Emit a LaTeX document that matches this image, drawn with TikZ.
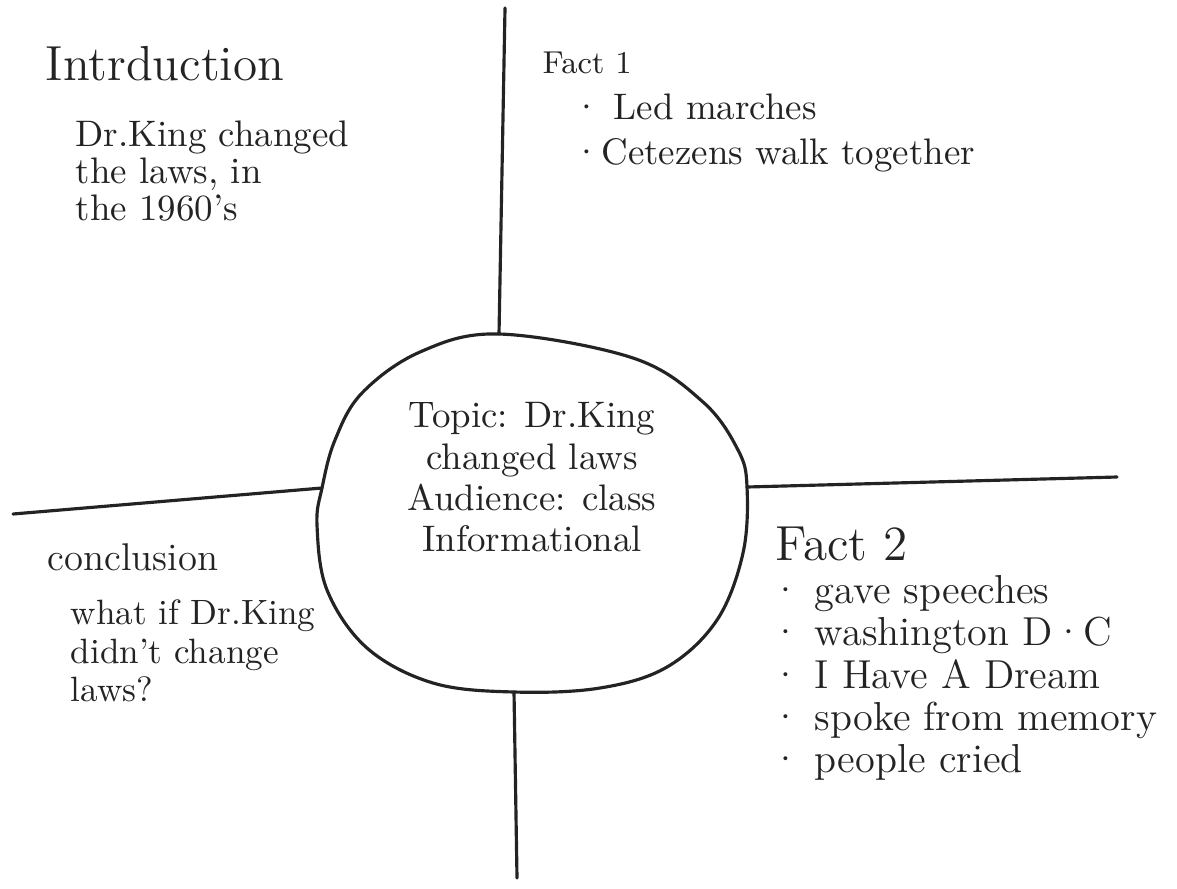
\documentclass[tikz,border=0pt]{standalone}
\usepackage{tikz}
\usepackage{xcolor}
\definecolor{pencilgray}{RGB}{35, 35, 35}

\begin{document}
\begin{tikzpicture}[x=0.01cm, y=-0.01cm,
        divider/.style={draw=pencilgray, line width=0.9pt, line cap=round},
        heading/.style={anchor=north west, inner sep=0pt, text=pencilgray, font=\fontsize{#1}{#1}\selectfont},
        notes/.style={anchor=north west, inner sep=0pt, align=left, text=pencilgray}]
        \useasboundingbox (0,0) rectangle (1177,888);

        % Topic bubble in the middle
        \draw[divider] plot[smooth cycle, tension=0.6] coordinates {(499,334) (633,358) (703,402) (738,450) (747,487) (743,553) (717,620) (667,667) (600,688) (514,692) (433,683) (367,648) (327,590) (317,525) (322,488) (335,440) (362,393) (420,352)};
        \node[notes, anchor=north, align=center, font=\fontsize{10.5}{11.7}\selectfont] (topic) at (532,402) {Topic: Dr.King\\changed laws\\Audience: class\\Informational};

        % Quadrant dividers
        \coordinate (bubbletop) at (499,334);
        \coordinate (bubblebottom) at (514,692);
        \coordinate (bubbleleft) at (322,488);
        \coordinate (bubbleright) at (747,487);
        \coordinate (topend) at (505,8);
        \coordinate (bottomend) at (517,878);
        \coordinate (leftend) at (13,514);
        \coordinate (rightend) at (1117,477);
        \draw[divider] (topend) -- (bubbletop);
        \draw[divider] (bubblebottom) -- (bottomend);
        \draw[divider] (leftend) -- (bubbleleft);
        \draw[divider] (bubbleright) -- (rightend);

        % Introduction
        \node[heading=14] (intro) at (45,46) {Intrduction};
        \node[notes, font=\fontsize{10.5}{10.5}\selectfont] (introtext) at (75,120) {Dr.King changed\\the laws, in\\the 1960's};

        % Fact 1
        \node[heading=9] (fact1) at (542,51) {Fact 1};
        \node[notes, font=\fontsize{10.5}{12.8}\selectfont] (fact1text) at (572,93) {· Led marches\\·Cetezens walk together};

        % Conclusion
        \node[heading=11] (conclusion) at (47,543) {conclusion};
        \node[notes, font=\fontsize{10}{11}\selectfont] (conclusiontext) at (70,599) {what if Dr.King\\didn't change\\laws?};

        % Fact 2
        \node[heading=14] (fact2) at (775,526) {Fact 2};
        \node[notes, font=\fontsize{11.5}{12}\selectfont] (fact2text) at (770,575) {· gave speeches\\· washington D·C\\· I Have A Dream\\· spoke from memory\\· people cried};
    \end{tikzpicture}
\end{document}
